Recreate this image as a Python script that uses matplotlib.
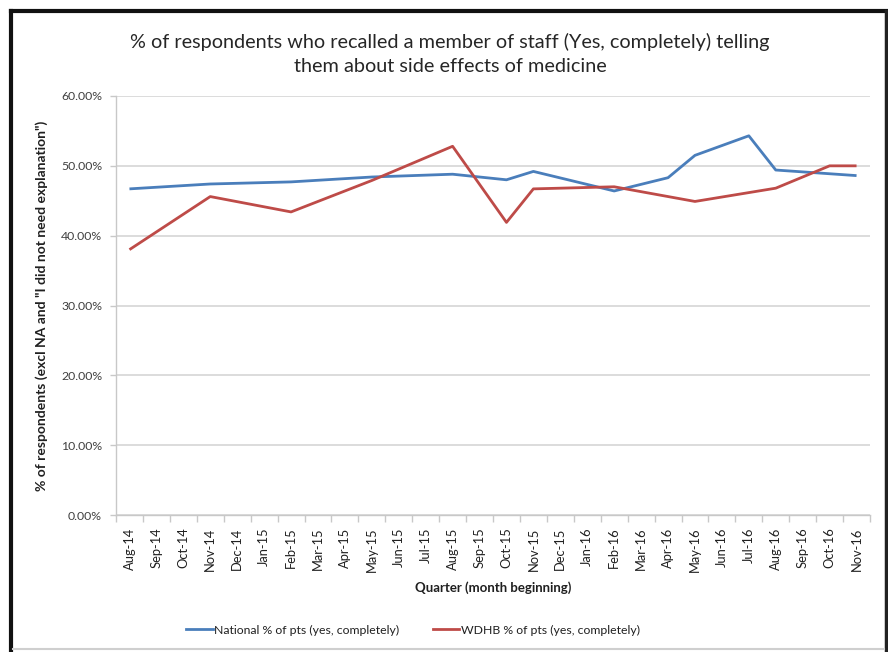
import matplotlib
matplotlib.use("Agg")
import matplotlib.pyplot as plt
import numpy as np
from matplotlib.lines import Line2D

months = ["Aug-14", "Sep-14", "Oct-14", "Nov-14", "Dec-14", "Jan-15", "Feb-15", "Mar-15",
          "Apr-15", "May-15", "Jun-15", "Jul-15", "Aug-15", "Sep-15", "Oct-15", "Nov-15",
          "Dec-15", "Jan-16", "Feb-16", "Mar-16", "Apr-16", "May-16", "Jun-16", "Jul-16",
          "Aug-16", "Sep-16", "Oct-16", "Nov-16"]

national = {"Aug-14": 46.7, "Nov-14": 47.4, "Feb-15": 47.7, "May-15": 48.4, "Aug-15": 48.8,
            "Oct-15": 48.0, "Nov-15": 49.2, "Feb-16": 46.4, "Apr-16": 48.3, "May-16": 51.5,
            "Jul-16": 54.3, "Aug-16": 49.4, "Nov-16": 48.6}
wdhb = {"Aug-14": 38.0, "Nov-14": 45.6, "Feb-15": 43.4, "May-15": 47.9, "Aug-15": 52.8,
        "Oct-15": 41.9, "Nov-15": 46.7, "Feb-16": 47.0, "May-16": 44.9, "Aug-16": 46.8,
        "Oct-16": 50.0, "Nov-16": 50.0}

yticks = [0, 10, 20, 30, 40, 50, 60]

FONT = ["Lato", "DejaVu Sans"]
plt.rcParams['font.family'] = FONT

W, H = 888, 652
fig = plt.figure(figsize=(W / 100, H / 100), dpi=100)
fig.patch.set_facecolor("white")

def fx(px):
    return px / W

def fy(py):
    return 1 - py / H

# outer frame: black top/left/right, light grey bottom
fig.add_artist(Line2D([fx(11), fx(886)], [fy(11), fy(11)], color="#111111", linewidth=3, transform=fig.transFigure))
fig.add_artist(Line2D([fx(11), fx(11)], [fy(11), fy(652)], color="#111111", linewidth=3, transform=fig.transFigure))
fig.add_artist(Line2D([fx(886), fx(886)], [fy(11), fy(652)], color="#222222", linewidth=2.5, transform=fig.transFigure))
fig.add_artist(Line2D([fx(13), fx(884)], [fy(649), fy(649)], color="#CFCFCF", linewidth=1.5, transform=fig.transFigure))

left, right, top, bottom = 116, 870, 96, 515
ax = fig.add_axes([left / W, 1 - bottom / H, (right - left) / W, (bottom - top) / H])

def idx(d):
    xs = [months.index(k) for k in d]
    ys = [d[k] / 100 for k in d]
    return xs, ys

xs, ys = idx(national)
ax.plot(xs, ys, color="#4A7EBB", linewidth=2.0, solid_capstyle="butt", zorder=3)
xs, ys = idx(wdhb)
ax.plot(xs, ys, color="#BE4B48", linewidth=2.0, solid_capstyle="butt", zorder=3)

ax.set_xlim(-0.5, len(months) - 0.5)
ax.set_ylim(0, 0.6)
ax.set_yticks([v / 100 for v in yticks])
ax.set_yticklabels([f"{v:.2f}%" for v in yticks], fontsize=8.8, color="#404040")
ax.yaxis.grid(True, color="#D9D9D9", linewidth=1.3)
ax.set_axisbelow(True)

ax.set_xticks(range(len(months)))
ax.set_xticklabels(months, rotation=90, fontsize=9.3, color="#202020")
ax.set_xticks(np.arange(-0.5, len(months), 1), minor=True)
ax.tick_params(axis="x", which="major", length=0, pad=9)
ax.tick_params(axis="x", which="minor", length=5, color="#C8C8C8", width=1)
ax.tick_params(axis="y", length=4, color="#C8C8C8", width=1, pad=6)

for s in ["top", "right"]:
    ax.spines[s].set_visible(False)
ax.spines["left"].set_color("#C8C8C8")
ax.spines["bottom"].set_color("#C8C8C8")
ax.spines["left"].set_linewidth(1)
ax.spines["bottom"].set_linewidth(1)

fig.text(fx(450), fy(42), "% of respondents who recalled a member of staff (Yes, completely) telling",
         ha="center", va="center", fontsize=14.3, color="#262626")
fig.text(fx(450), fy(66), "them about side effects of medicine",
         ha="center", va="center", fontsize=14.3, color="#262626")

fig.text(fx(42), fy(306), "% of respondents (excl NA and \"I did not need explanation\")",
         rotation=90, ha="center", va="center", fontsize=10, fontweight="bold", color="#202020")
fig.text(fx(493), fy(588), "Quarter (month beginning)", ha="center", va="center",
         fontsize=9.5, fontweight="bold", color="#202020")

handles = [Line2D([], [], color="#4A7EBB", linewidth=2.0),
           Line2D([], [], color="#BE4B48", linewidth=2.0)]
fig.legend(handles, ["National % of pts (yes, completely)", "WDHB % of pts (yes, completely)"],
           loc="center", bbox_to_anchor=(fx(413), fy(630)), ncol=2, frameon=False,
           fontsize=8.8, handlelength=2.2, handletextpad=0.15, columnspacing=2.7,
           labelcolor="#202020")

fig.savefig("out.png", dpi=100, facecolor="white")
